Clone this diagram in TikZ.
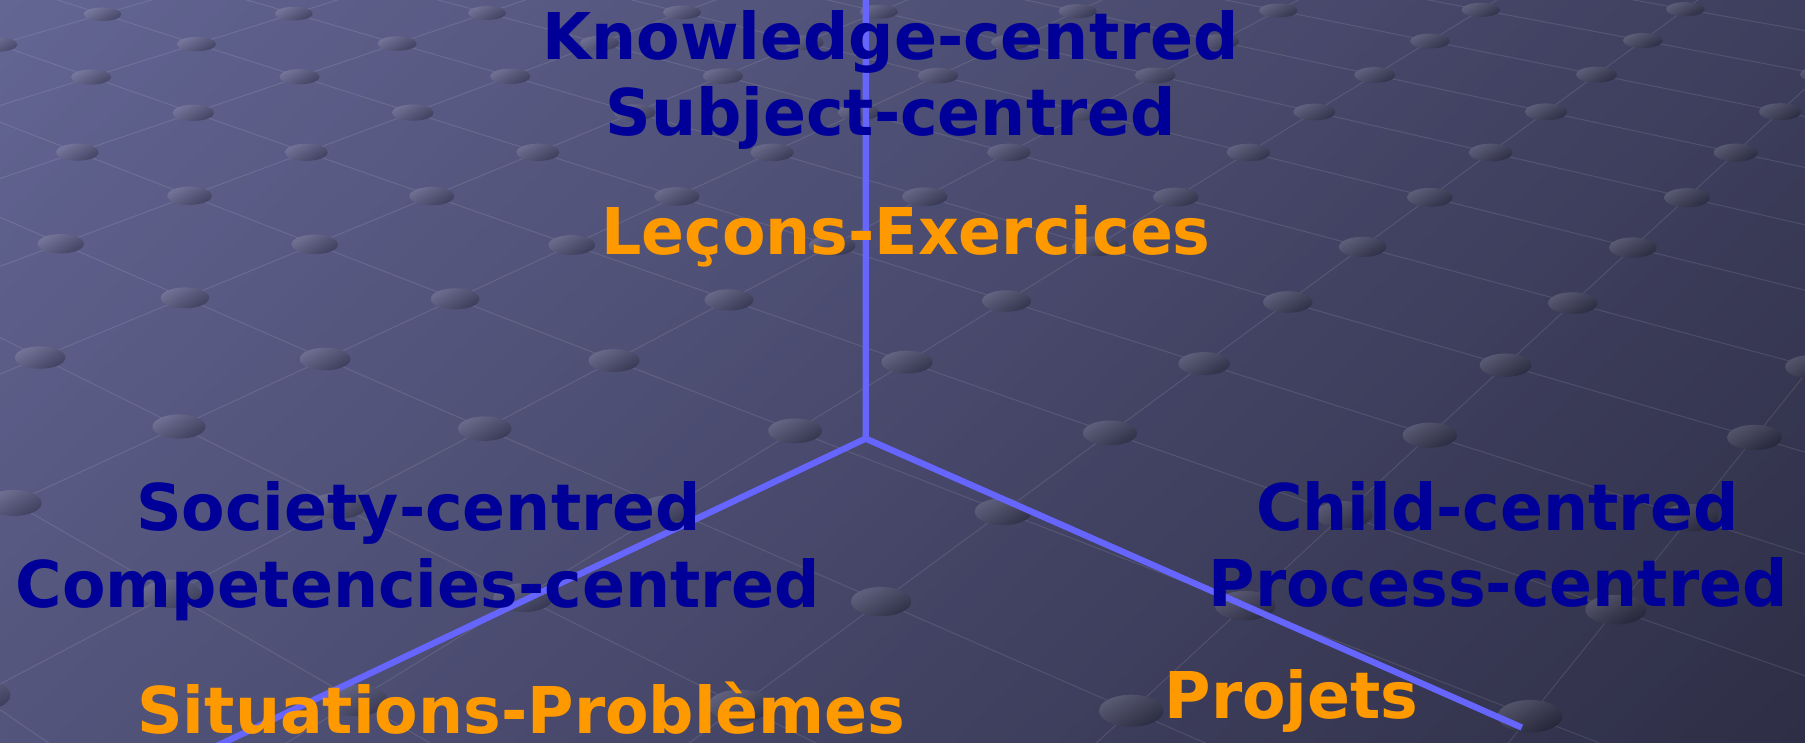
\documentclass[tikz,border=0pt]{standalone}
\usepackage{fontspec}
\newfontfamily\labelfont{DejaVu Sans}[FakeStretch=0.983]
\definecolor{bgA}{RGB}{99,101,147}
\definecolor{bgB}{RGB}{46,46,70}
\definecolor{txtblue}{RGB}{0,0,153}
\definecolor{txtorange}{RGB}{255,153,0}
\definecolor{axisblue}{RGB}{102,102,255}
\pgfmathdeclarefunction{hw}{2}{\pgfmathparse{1-0.04948*(#1)+0.04418*(#2)}}
\pgfmathdeclarefunction{hx}{2}{\pgfmathparse{(84.99*(#1)+103.72*(#2)+168)/(1-0.04948*(#1)+0.04418*(#2))}}
\pgfmathdeclarefunction{hy}{2}{\pgfmathparse{(27.74*(#1)-28.4*(#2)+98)/(1-0.04948*(#1)+0.04418*(#2))}}
\tikzset{
  lblblue/.style={font=\labelfont\bfseries\fontsize{56}{67}\selectfont, text=txtblue, anchor=base, inner sep=0pt},
  lblorange/.style={font=\labelfont\bfseries\fontsize{56}{67}\selectfont, text=txtorange, anchor=base, inner sep=0pt},
  gridline/.style={draw=white, draw opacity=0.1, line width=0.9pt},
  axisline/.style={draw=axisblue, line width=5.5pt, line join=miter}
}
\begin{document}
\begin{tikzpicture}[x=1pt,y=-1pt]
\useasboundingbox (0,0) rectangle (1568,645);
\begin{scope}
\clip (0,0) rectangle (1568,645);
% background gradient
\foreach \k in {0,...,99}{
  \pgfmathsetmacro\pct{100-(\k+0.5)}
  \fill[bgA!\pct!bgB, rotate=-46.2] (15.51*\k-0.3,-1800) rectangle (15.51*\k+15.9,1800);
}
% lattice lines
\foreach \i in {-4,...,11}{\foreach \j in {-7,...,13}{
  \pgfmathsetmacro\w{hw(\i,\j)}
  \ifdim\w pt>0.3pt
    \pgfmathsetmacro\px{hx(\i,\j)}\pgfmathsetmacro\py{hy(\i,\j)}
    \pgfmathsetmacro\wa{hw(\i+1,\j)}
    \ifdim\wa pt>0.3pt
      \pgfmathsetmacro\xa{hx(\i+1,\j)}\pgfmathsetmacro\ya{hy(\i+1,\j)}
      \draw[gridline] (\px,\py) -- (\xa,\ya);
    \fi
    \pgfmathsetmacro\wb{hw(\i,\j+1)}
    \ifdim\wb pt>0.3pt
      \pgfmathsetmacro\xb{hx(\i,\j+1)}\pgfmathsetmacro\yb{hy(\i,\j+1)}
      \draw[gridline] (\px,\py) -- (\xb,\yb);
    \fi
  \fi
}}
% lattice beads
\foreach \i in {-4,...,11}{\foreach \j in {-7,...,13}{
  \pgfmathsetmacro\w{hw(\i,\j)}
  \ifdim\w pt>0.3pt
    \pgfmathsetmacro\px{hx(\i,\j)}\pgfmathsetmacro\py{hy(\i,\j)}
    \pgfmathparse{and(and(\px>-50,\px<1620),and(\py>-30,\py<690))}
    \ifdim\pgfmathresult pt>0.5pt
      \pgfmathsetmacro\tt{min(1,max(0,(0.692*\px+0.722*\py)/1551))}
      \pgfmathsetmacro\pct{100*(1-\tt)}
      \colorlet{ec}{bgA!\pct!bgB}
      \pgfmathsetmacro\rx{5+13/\w}\pgfmathsetmacro\ry{-2+9/\w}
      \shade[top color=ec!85!white, bottom color=ec!72!black, shading angle=30] (\px,\py) ellipse [x radius=\rx, y radius=\ry];
    \fi
  \fi
}}
\end{scope}
% axes
\coordinate (ctr) at (752,381);
\coordinate (topend) at (752,-10);
\coordinate (leftend) at (163,660);
\coordinate (rightend) at (1322,632);
\draw[axisline] (topend) -- (ctr) -- (rightend);
\draw[axisline] (ctr) -- (leftend);
% labels
\node[lblblue] (know) at (773.7,52) {Knowledge-centred};
\node[lblblue] (subj) at (773.7,118) {Subject-centred};
\node[lblorange] (lecons) at (787,221.5) {Leçons-Exercices};
\node[lblblue] (soc) at (363.5,460.5) {Society-centred};
\node[lblblue] (comp) at (363,527.5) {Competencies-centred};
\node[lblorange] (sit) at (453,637) {Situations-Problèmes};
\node[lblblue] (child) at (1300.7,460.5) {Child-centred};
\node[lblblue] (proc) at (1301.5,527) {Process-centred};
\node[lblorange] (proj) at (1122,624) {Projets};
\end{tikzpicture}
\end{document}
